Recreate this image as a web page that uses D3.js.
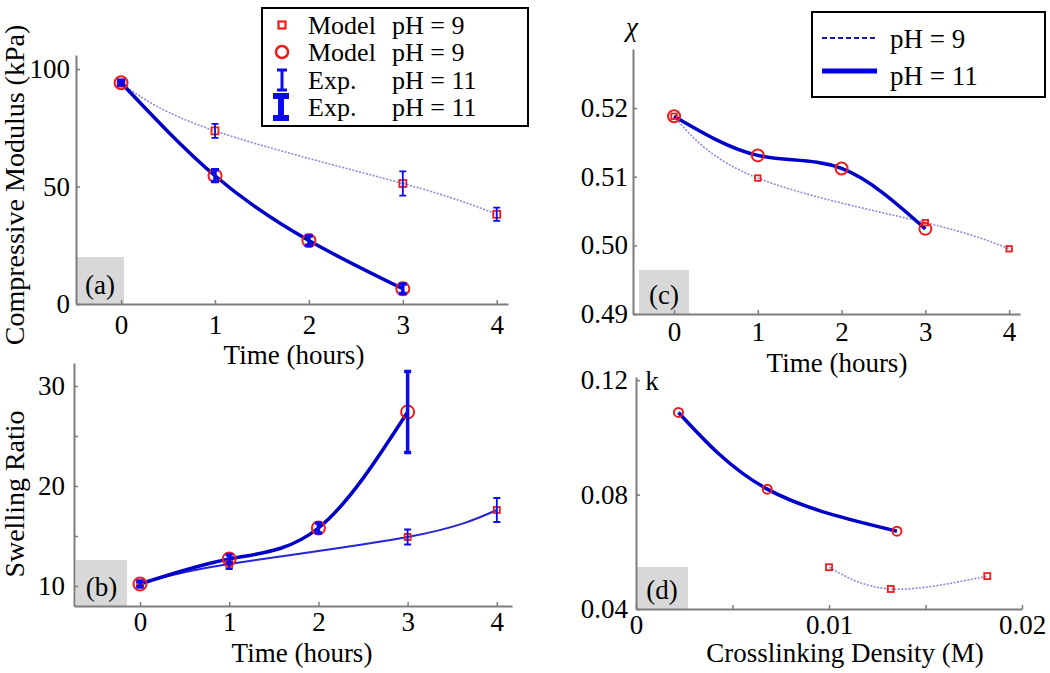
<!DOCTYPE html>
<html>
<head>
<meta charset="utf-8">
<script src="https://cdn.jsdelivr.net/npm/d3@7"></script>
<style>
  body { margin: 0; background: #fff; }
  svg { font-family: "Liberation Serif", "Times New Roman", serif; }
</style>
</head>
<body>
<div id="chart"></div>
<script>
// (a) compressive modulus vs time
const modTimes9 = [0, 1, 3, 4]
const mod9 = [94, 73.7, 51.3, 38.2]
const mod9Err = [0.5, 3, 5.2, 2.8]
const modTimes11 = [0, 1, 2, 3]
const mod11 = [94.2, 54.6, 27, 6.5]
const mod11Err = [1, 2.5, 2, 2]

// (b) swelling ratio vs time
const swellTimes9 = [0, 1, 3, 4]
const swell9 = [10.2, 12.2, 14.9, 17.6]
const swell9Err = [0.2, 0.5, 0.75, 1.2]
const swellTimes11 = [0, 1, 2, 3]
const swell11 = [10.2, 12.7, 15.8, 27.4]
const swell11Err = [0.3, 0.4, 0.5, 4.05]

// (c) chi vs time
const chiTimes9 = [0, 1, 3, 4]
const chi9 = [0.5188, 0.5098, 0.5033, 0.4995]
const chiTimes11 = [0, 1, 2, 3]
const chi11 = [0.5188, 0.5131, 0.5112, 0.5024]

// (d) k vs crosslinking density
const density9 = [0.01, 0.0132, 0.0182]
const k9 = [0.0546, 0.047, 0.0515]
const density11 = [0.0022, 0.0068, 0.01352]
const k11 = [0.1087, 0.0819, 0.0672]

// ticks
const timeTicks = [0, 1, 2, 3, 4]
const modTicks = [0, 50, 100]
const swellTicks = [10, 15, 20, 25, 30]
const swellLabels = [10, 20, 30]
const chiTicks = [0.49, 0.50, 0.51, 0.52]
const kTicks = [0.04, 0.08, 0.12]
const densityTicks = [0, 0.005, 0.01, 0.015, 0.02]
const densityLabels = [0, 0.01, 0.02]

const legendA = ["Model", "Model", "Exp.", "Exp."]
const legendApH = ["pH = 9", "pH = 9", "pH = 11", "pH = 11"]
const legendC = ["pH = 9", "pH = 11"]

const width = 1050
const height = 673
const fontSize = 27
const axisColor = "#7d7d7d"
const red = "#f01c1c"
const blue = "#0000c8"
const barBlue = "#0a0af0"
const faint = "#8c8ce0"

const svg = d3.select("#chart")
  .append("svg")
  .attr("width", width)
  .attr("height", height)

function styleAxis(sel) {
  sel.attr("font-size", fontSize).attr("font-family", "Liberation Serif, Times New Roman, serif")
  sel.select(".domain").attr("stroke", axisColor).attr("stroke-width", 2)
  sel.selectAll(".tick line").attr("stroke", axisColor).attr("stroke-width", 1.5)
  sel.selectAll(".tick text").attr("fill", "#000")
}

function panel(cfg) {
  const x = d3.scaleLinear().domain(cfg.xDomain).range(cfg.xRange)
  const y = d3.scaleLinear().domain(cfg.yDomain).range(cfg.yRange)
  const g = svg.append("g")

  // grey panel tag
  g.append("rect")
    .attr("x", cfg.tag[0]).attr("y", cfg.tag[1])
    .attr("width", cfg.tag[2]).attr("height", cfg.tag[3])
    .attr("fill", "#d8d8d8")
  g.append("text")
    .attr("x", cfg.tag[0] + cfg.tag[2] / 2)
    .attr("y", cfg.tag[1] + cfg.tag[3] - 10)
    .attr("text-anchor", "middle")
    .attr("font-size", fontSize)
    .text(cfg.tagText)

  const xAxis = d3.axisBottom(x)
    .tickValues(cfg.xTicks)
    .tickSizeInner(-4).tickSizeOuter(0)
    .tickPadding(cfg.xPad)
    .tickFormat(d => cfg.xLabels.includes(d) ? cfg.xFmt(d) : "")
  g.append("g")
    .attr("transform", `translate(0,${cfg.yRange[0]})`)
    .call(xAxis).call(styleAxis)

  const yAxis = d3.axisLeft(y)
    .tickValues(cfg.yTicks)
    .tickSizeInner(-4).tickSizeOuter(0)
    .tickPadding(cfg.yPad)
    .tickFormat(d => cfg.yLabels.includes(d) ? cfg.yFmt(d) : "")
  g.append("g")
    .attr("transform", `translate(${cfg.xRange[0]},0)`)
    .call(yAxis).call(styleAxis)

  return { g, x, y }
}

function curve(p, xs, ys, color, w, dash) {
  const line = d3.line()
    .x((d, i) => p.x(xs[i]))
    .y(d => p.y(d))
    .curve(d3.curveNatural)
  p.g.append("path")
    .datum(ys)
    .attr("d", line)
    .attr("fill", "none")
    .attr("stroke", color)
    .attr("stroke-width", w)
    .attr("stroke-dasharray", dash || null)
}

function squares(p, xs, ys, s) {
  p.g.selectAll(null).data(ys).join("rect")
    .attr("x", (d, i) => p.x(xs[i]) - s / 2)
    .attr("y", d => p.y(d) - s / 2)
    .attr("width", s).attr("height", s)
    .attr("fill", "none").attr("stroke", red).attr("stroke-width", 1.8)
}

function circles(p, xs, ys, r) {
  p.g.selectAll(null).data(ys).join("circle")
    .attr("cx", (d, i) => p.x(xs[i]))
    .attr("cy", d => p.y(d))
    .attr("r", r)
    .attr("fill", "none").attr("stroke", red).attr("stroke-width", 2)
}

function errorBars(p, xs, ys, errs, cap, w) {
  p.g.selectAll(null).data(ys).join("path")
    .attr("d", (d, i) => {
      const cx = p.x(xs[i]), lo = p.y(d - errs[i]), hi = p.y(d + errs[i])
      return `M${cx},${lo}V${hi}M${cx - cap},${lo}h${2 * cap}M${cx - cap},${hi}h${2 * cap}`
    })
    .attr("fill", "none").attr("stroke", barBlue).attr("stroke-width", w)
}

// PANEL (a)
const pa = panel({
  xDomain: [-0.48, 4.12], xRange: [76, 508],
  yDomain: [0, 106], yRange: [304, 55],
  xTicks: timeTicks, xLabels: timeTicks, xFmt: d3.format("d"), xPad: 11,
  yTicks: modTicks, yLabels: modTicks, yFmt: d3.format("d"), yPad: 6,
  tag: [76, 257, 48, 47], tagText: "(a)"
})
curve(pa, modTimes9, mod9, faint, 1.6, "2,1.5")
curve(pa, modTimes11, mod11, blue, 3.5)
squares(pa, modTimes9, mod9, 7)
circles(pa, modTimes11, mod11, 6.5)
errorBars(pa, modTimes9, mod9, mod9Err, 3.5, 1.8)
errorBars(pa, modTimes11, mod11, mod11Err, 4, 3.5)

svg.append("text")
  .attr("transform", "translate(24,185) rotate(-90)")
  .attr("text-anchor", "middle")
  .attr("font-size", 28)
  .text("Compressive Modulus (kPa)")
svg.append("text")
  .attr("x", 294).attr("y", 364)
  .attr("text-anchor", "middle").attr("font-size", fontSize)
  .text("Time (hours)")

// PANEL (b)
const pb = panel({
  xDomain: [-0.74, 4.17], xRange: [74, 512],
  yDomain: [8, 32.3], yRange: [606, 363],
  xTicks: timeTicks, xLabels: timeTicks, xFmt: d3.format("d"), xPad: 6,
  yTicks: swellTicks, yLabels: swellLabels, yFmt: d3.format("d"), yPad: 9,
  tag: [76, 560, 51, 46], tagText: "(b)"
})
curve(pb, swellTimes9, swell9, "#2424d8", 2)
curve(pb, swellTimes11, swell11, blue, 3.5)
squares(pb, swellTimes9, swell9, 6)
circles(pb, swellTimes11, swell11, 6.5)
errorBars(pb, swellTimes9, swell9, swell9Err, 3.5, 1.8)
errorBars(pb, swellTimes11, swell11, swell11Err, 3.5, 3.5)

svg.append("text")
  .attr("transform", "translate(24,494) rotate(-90)")
  .attr("text-anchor", "middle")
  .attr("font-size", 28)
  .text("Swelling Ratio")
svg.append("text")
  .attr("x", 302).attr("y", 662)
  .attr("text-anchor", "middle").attr("font-size", fontSize)
  .text("Time (hours)")

// PANEL (c)
const pc = panel({
  xDomain: [-0.49, 4.13], xRange: [633, 1020],
  yDomain: [0.49, 0.5286], yRange: [314, 49],
  xTicks: timeTicks, xLabels: timeTicks, xFmt: d3.format("d"), xPad: 8,
  yTicks: chiTicks, yLabels: chiTicks, yFmt: d3.format(".2f"), yPad: 5,
  tag: [639, 270, 50, 44], tagText: "(c)"
})
curve(pc, chiTimes9, chi9, faint, 1.6, "2,1.5")
curve(pc, chiTimes11, chi11, blue, 3.5)
squares(pc, chiTimes9, chi9, 5.5)
circles(pc, chiTimes11, chi11, 6)

svg.append("text")
  .attr("x", 632).attr("y", 36)
  .attr("text-anchor", "middle").attr("font-size", fontSize)
  .attr("font-style", "italic")
  .text("χ")
svg.append("text")
  .attr("x", 837).attr("y", 372)
  .attr("text-anchor", "middle").attr("font-size", fontSize)
  .text("Time (hours)")

// PANEL (d)
const pd = panel({
  xDomain: [0, 0.02], xRange: [636, 1022],
  yDomain: [0.04, 0.1211], yRange: [609, 377],
  xTicks: densityTicks, xLabels: densityLabels,
  xFmt: d => d === 0 ? "0" : d3.format(".2f")(d), xPad: 6,
  yTicks: kTicks, yLabels: kTicks, yFmt: d3.format(".2f"), yPad: 8,
  tag: [636, 567, 52, 42], tagText: "(d)"
})
curve(pd, density9, k9, faint, 1.6, "2,1.5")
curve(pd, density11, k11, blue, 3.5)
squares(pd, density9, k9, 6)
circles(pd, density11, k11, 4.5)

svg.append("text")
  .attr("x", 652).attr("y", 390)
  .attr("text-anchor", "middle").attr("font-size", fontSize)
  .text("k")
svg.append("text")
  .attr("x", 845).attr("y", 662)
  .attr("text-anchor", "middle").attr("font-size", fontSize)
  .text("Crosslinking Density (M)")

// LEGEND for (a)/(b)
const legA = svg.append("g")
legA.append("rect")
  .attr("x", 262).attr("y", 8).attr("width", 266).attr("height", 118)
  .attr("fill", "#fff").attr("stroke", "#000").attr("stroke-width", 2)
const rowsA = [25, 52, 80, 107]
legA.selectAll(null).data(legendA).join("text")
  .attr("x", 308).attr("y", (d, i) => rowsA[i] + 9)
  .attr("font-size", 26).text(d => d)
legA.selectAll(null).data(legendApH).join("text")
  .attr("x", 392).attr("y", (d, i) => rowsA[i] + 9)
  .attr("font-size", 26).text(d => d)
legA.append("rect")
  .attr("x", 278.5).attr("y", rowsA[0] - 3.5).attr("width", 7).attr("height", 7)
  .attr("fill", "none").attr("stroke", red).attr("stroke-width", 2.2)
legA.append("circle")
  .attr("cx", 282).attr("cy", rowsA[1]).attr("r", 6)
  .attr("fill", "none").attr("stroke", red).attr("stroke-width", 2.5)
legA.append("path")
  .attr("d", `M282,${rowsA[2] - 10}V${rowsA[2] + 10}M277,${rowsA[2] - 10}h10M277,${rowsA[2] + 10}h10`)
  .attr("stroke", barBlue).attr("stroke-width", 3).attr("fill", "none")
legA.append("path")
  .attr("d", `M281,${rowsA[3] - 11}V${rowsA[3] + 11}M273,${rowsA[3] - 11}h16M273,${rowsA[3] + 11}h16`)
  .attr("stroke", barBlue).attr("stroke-width", 6).attr("fill", "none")

// LEGEND for (c)/(d)
const legC = svg.append("g")
legC.append("rect")
  .attr("x", 812).attr("y", 12).attr("width", 233).attr("height", 85)
  .attr("fill", "#fff").attr("stroke", "#000").attr("stroke-width", 2)
legC.append("line")
  .attr("x1", 822).attr("x2", 877).attr("y1", 38).attr("y2", 38)
  .attr("stroke", "#1a1aa8").attr("stroke-width", 2).attr("stroke-dasharray", "5,3")
legC.append("line")
  .attr("x1", 822).attr("x2", 877).attr("y1", 71).attr("y2", 71)
  .attr("stroke", "#0000e0").attr("stroke-width", 5)
legC.selectAll(null).data(legendC).join("text")
  .attr("x", 890).attr("y", (d, i) => [48, 85][i])
  .attr("font-size", fontSize).text(d => d)
</script>
</body>
</html>
